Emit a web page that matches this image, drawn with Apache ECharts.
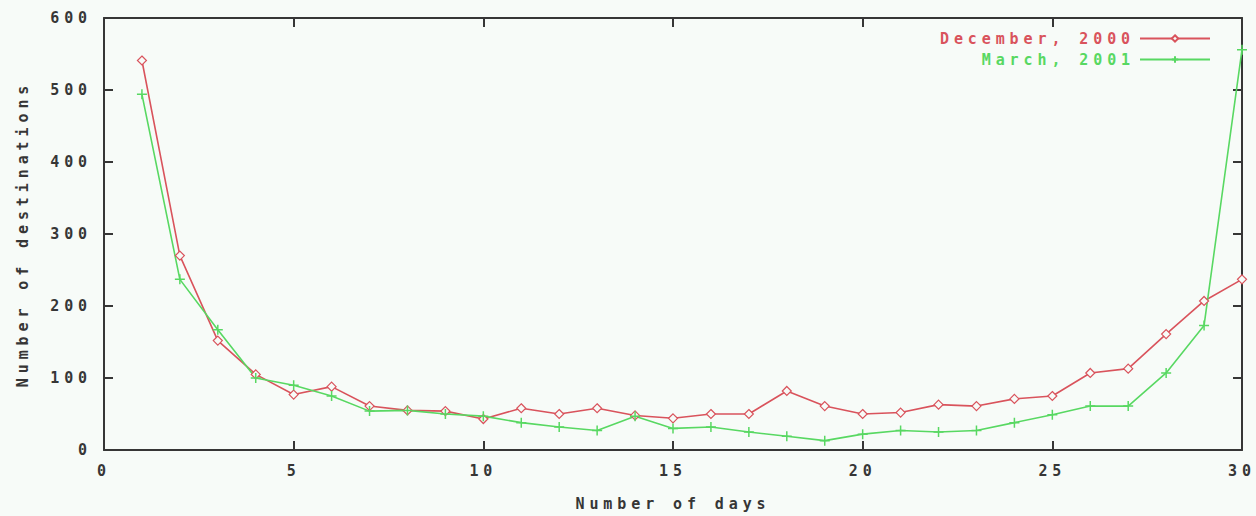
<!DOCTYPE html>
<html>
<head>
<meta charset="utf-8">
<script src="https://cdn.jsdelivr.net/npm/echarts@6/dist/echarts.min.js"></script>
<style>
  html, body { margin: 0; padding: 0; background: #f7fbf8; }
  #chart { width: 1256px; height: 516px; }
  /* wide, spaced-out terminal-style lettering */
  #chart svg text { letter-spacing: 4.9px; }
</style>
</head>
<body>
<div id="chart"></div>
<script>
// Days on the x axis
const days = [1, 2, 3, 4, 5, 6, 7, 8, 9, 10, 11, 12, 13, 14, 15,
              16, 17, 18, 19, 20, 21, 22, 23, 24, 25, 26, 27, 28, 29, 30];

// Number of destinations per day count
const december2000 = [541, 270, 152, 105, 77, 88, 61, 55, 54, 43, 58, 50, 58, 48, 44,
                      50, 50, 82, 61, 50, 52, 63, 61, 71, 75, 107, 113, 161, 207, 237];
const march2001    = [494, 237, 167, 100, 90, 75, 54, 55, 50, 47, 38, 32, 27, 47, 30,
                      32, 25, 19, 13, 22, 27, 25, 27, 38, 49, 61, 61, 107, 173, 556];

const seriesNames = ['December, 2000', 'March, 2001'];
const xTicks = { min: 0, max: 30, interval: 5 };
const yTicks = { min: 0, max: 600, interval: 100 };

const RED = '#d9535c';
const GREEN = '#58d862';
const INK = '#363636';
const FONT = '"DejaVu Sans Mono", "Liberation Mono", monospace';
const TEXT = { fontFamily: FONT, fontSize: 15, fontWeight: 'bold' };

const toPairs = (vals) => days.map((d, i) => [d, vals[i]]);

const axisLine = { show: true, onZero: false, lineStyle: { color: INK, width: 2 } };
const axisTick = { show: true, inside: true, length: 9, lineStyle: { color: INK, width: 2 } };

const chart = echarts.init(document.getElementById('chart'), null, { renderer: 'svg' });
chart.setOption({
  backgroundColor: '#f7fbf8',
  animation: false,
  textStyle: { fontFamily: FONT },
  grid: { left: 104, right: 14, top: 18, bottom: 64 },
  legend: {
    orient: 'vertical',
    right: 40,
    top: 25,
    align: 'right',
    itemWidth: 70,
    itemHeight: 8,
    itemGap: 4,
    selectedMode: false,
    textStyle: { ...TEXT, lineHeight: 17 },
    data: [
      { name: seriesNames[0], textStyle: { color: RED } },
      { name: seriesNames[1], textStyle: { color: GREEN } }
    ]
  },
  xAxis: [
    {
      type: 'value', position: 'bottom', ...xTicks,
      name: 'Number of days', nameLocation: 'middle', nameGap: 46,
      nameTextStyle: { color: INK, ...TEXT },
      axisLine, axisTick,
      axisLabel: { color: INK, ...TEXT, margin: 13 },
      splitLine: { show: false }
    },
    {
      type: 'value', position: 'top', ...xTicks,
      axisLine, axisTick, axisLabel: { show: false }, splitLine: { show: false }
    }
  ],
  yAxis: [
    {
      type: 'value', position: 'left', ...yTicks,
      name: 'Number of destinations', nameLocation: 'middle', nameGap: 74,
      nameTextStyle: { color: INK, ...TEXT },
      axisLine, axisTick,
      axisLabel: { color: INK, ...TEXT, margin: 12 },
      splitLine: { show: false }
    },
    {
      type: 'value', position: 'right', ...yTicks,
      axisLine, axisTick, axisLabel: { show: false }, splitLine: { show: false }
    }
  ],
  series: [
    {
      name: seriesNames[0],
      type: 'line',
      data: toPairs(december2000),
      symbol: 'diamond',
      symbolSize: 9,
      showAllSymbol: true,
      lineStyle: { color: RED, width: 1.6 },
      itemStyle: { color: '#f7fbf8', borderColor: RED, borderWidth: 1.2 }
    },
    {
      name: seriesNames[1],
      type: 'line',
      data: toPairs(march2001),
      symbol: 'path://M5,0L5,10M0,5L10,5',
      symbolSize: 10,
      showAllSymbol: true,
      lineStyle: { color: GREEN, width: 1.6 },
      itemStyle: { color: GREEN, borderColor: GREEN, borderWidth: 1.5 }
    }
  ]
});
</script>
</body>
</html>
